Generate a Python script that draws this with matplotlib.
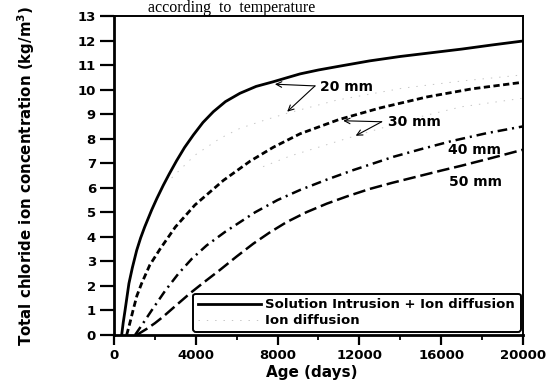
import matplotlib
matplotlib.use('Agg')
import matplotlib.pyplot as plt
from matplotlib.lines import Line2D
from matplotlib.ticker import MultipleLocator

plt.rcParams['font.family'] = ['DejaVu Sans']
plt.rcParams['font.weight'] = 'bold'
plt.rcParams['mathtext.default'] = 'bf'
plt.rcParams['lines.scale_dashes'] = False

# age (days) vs total chloride (kg/m3)
d20 = [376, 450, 540, 730, 900, 1110, 1300, 1500, 1840, 2100, 2410, 2700, 3060, 3450, 3880, 4350,
       4860, 5450, 6160, 6950, 7790, 8400, 9100, 10000, 11000, 12500, 14000, 15500, 17000, 18500, 20000]
c20 = [0, 0.5, 1.0, 2.1, 2.75, 3.45, 3.95, 4.4, 5.09, 5.57, 6.1, 6.56, 7.1, 7.64, 8.15, 8.66,
       9.1, 9.51, 9.85, 10.13, 10.32, 10.47, 10.64, 10.8, 10.95, 11.17, 11.35, 11.5, 11.65, 11.82, 11.98]

d30 = [620, 780, 930, 1120, 1350, 1750, 2250, 3000, 3960, 5350, 6650, 7790, 9100, 11000,
       13000, 15300, 17500, 20000]
c30 = [0, 0.5, 1.0, 1.6, 2.1, 2.85, 3.5, 4.4, 5.3, 6.3, 7.08, 7.65, 8.2, 8.78,
       9.25, 9.7, 10.03, 10.3]

d40 = [1030, 1400, 1840, 2500, 3150, 3800, 4530, 5430, 6900, 8000, 9100, 10400, 11700, 13660,
       15000, 16500, 18200, 20000]
c40 = [0, 0.45, 1.0, 1.8, 2.5, 3.1, 3.65, 4.2, 5.0, 5.5, 5.91, 6.33, 6.72, 7.26,
       7.57, 7.9, 8.22, 8.5]

d50 = [1110, 1600, 2000, 2410, 3000, 3720, 4400, 5180, 6000, 6810, 7600, 8440, 9400, 10400,
       11400, 12500, 13600, 14800, 16000, 17000, 18500, 20000]
c50 = [0, 0.25, 0.48, 0.75, 1.18, 1.7, 2.15, 2.65, 3.2, 3.72, 4.17, 4.6, 5.0, 5.35,
       5.65, 5.95, 6.2, 6.45, 6.7, 6.9, 7.22, 7.55]

# ion diffusion only (faint dotted in the original)
di20 = [2820, 3960, 5180, 6160, 7380, 8440, 10890, 14130, 17000, 20000]
ci20 = [6.4, 7.33, 8.01, 8.42, 8.76, 9.03, 9.57, 10.06, 10.35, 10.6]
di30 = [7290, 8600, 11820, 15000, 17000, 20000]
ci30 = [6.86, 7.29, 8.12, 8.9, 9.3, 9.65]

fig = plt.figure(figsize=(5.55, 3.85), dpi=100)
ax = fig.add_axes([0.2054, 0.1299, 0.7369, 0.8286])

ax.plot(d20, c20, color='black', lw=2.0)
ax.plot(d30, c30, color='black', lw=2.0, dashes=(4.5, 2.5))
ax.plot(d40, c40, color='black', lw=1.8, dashes=(7, 3.5, 1.5, 3.5))
ax.plot(d50, c50, color='black', lw=1.8, dashes=(9, 3.5))
ion_style = dict(color='#c4c4c4', lw=0.7, dashes=(1, 5))
ax.plot(di20, ci20, **ion_style)
ax.plot(di30, ci30, **ion_style)

ax.set_xlim(0, 20000)
ax.set_ylim(0, 13)
ax.xaxis.set_major_locator(MultipleLocator(4000))
ax.xaxis.set_minor_locator(MultipleLocator(2000))
ax.yaxis.set_major_locator(MultipleLocator(1))
ax.tick_params(axis='y', direction='out', length=10, width=1.6, labelsize=9.5, pad=3)
ax.tick_params(axis='x', which='major', direction='out', length=7, width=1.6, labelsize=9.5, pad=3)
ax.tick_params(axis='x', which='minor', direction='out', length=3.5, width=1.3)
for s in ['left', 'bottom']:
    ax.spines[s].set_linewidth(2.0)
for s in ['top', 'right']:
    ax.spines[s].set_linewidth(1.4)

ax.set_xlabel('Age (days)', fontsize=11, fontweight='bold')
ax.xaxis.set_label_coords(0.483, -0.094)
ax.set_ylabel('Total chloride ion concentration (kg/m$^3$)', fontsize=10.8, fontweight='bold')
ax.yaxis.set_label_coords(-0.215, 0.5)
ax.yaxis.label.set_va('center')

# curve labels and arrows
lab = dict(fontsize=10, fontweight='bold', va='center')
ax.text(10070, 10.12, '20 mm', **lab)
ax.text(13400, 8.69, '30 mm', **lab)
ax.text(16330, 7.54, '40 mm', **lab)
ax.text(16380, 6.25, '50 mm', **lab)
arr = dict(arrowstyle='->', lw=0.8, color='black', shrinkA=0, shrinkB=0)
for tip in [(7870, 10.22), (8470, 9.1)]:
    ax.annotate('', xy=tip, xytext=(9830, 10.15), arrowprops=arr)
for tip in [(11210, 8.73), (11820, 8.12)]:
    ax.annotate('', xy=tip, xytext=(13090, 8.69), arrowprops=arr)

handles = [Line2D([], [], color='black', lw=2.0), Line2D([], [], **ion_style)]
leg = ax.legend(handles, ['Solution Intrusion + Ion diffusion', 'Ion diffusion'],
                loc='lower left', bbox_to_anchor=(0.193, 0.009, 0.802, 0.126),
                mode='expand', borderaxespad=0, fontsize=9.5, handlelength=4.8,
                handletextpad=0.3, borderpad=0.35, labelspacing=0.25,
                fancybox=True, framealpha=1)
leg.get_frame().set_edgecolor('black')
leg.get_frame().set_linewidth(1.4)

fig.text(232 / 555, 1 - 12 / 385, 'according  to  temperature', fontsize=11.5,
         fontweight='normal', family='Liberation Serif', va='baseline', ha='center')

fig.savefig('out.png', dpi=100)
